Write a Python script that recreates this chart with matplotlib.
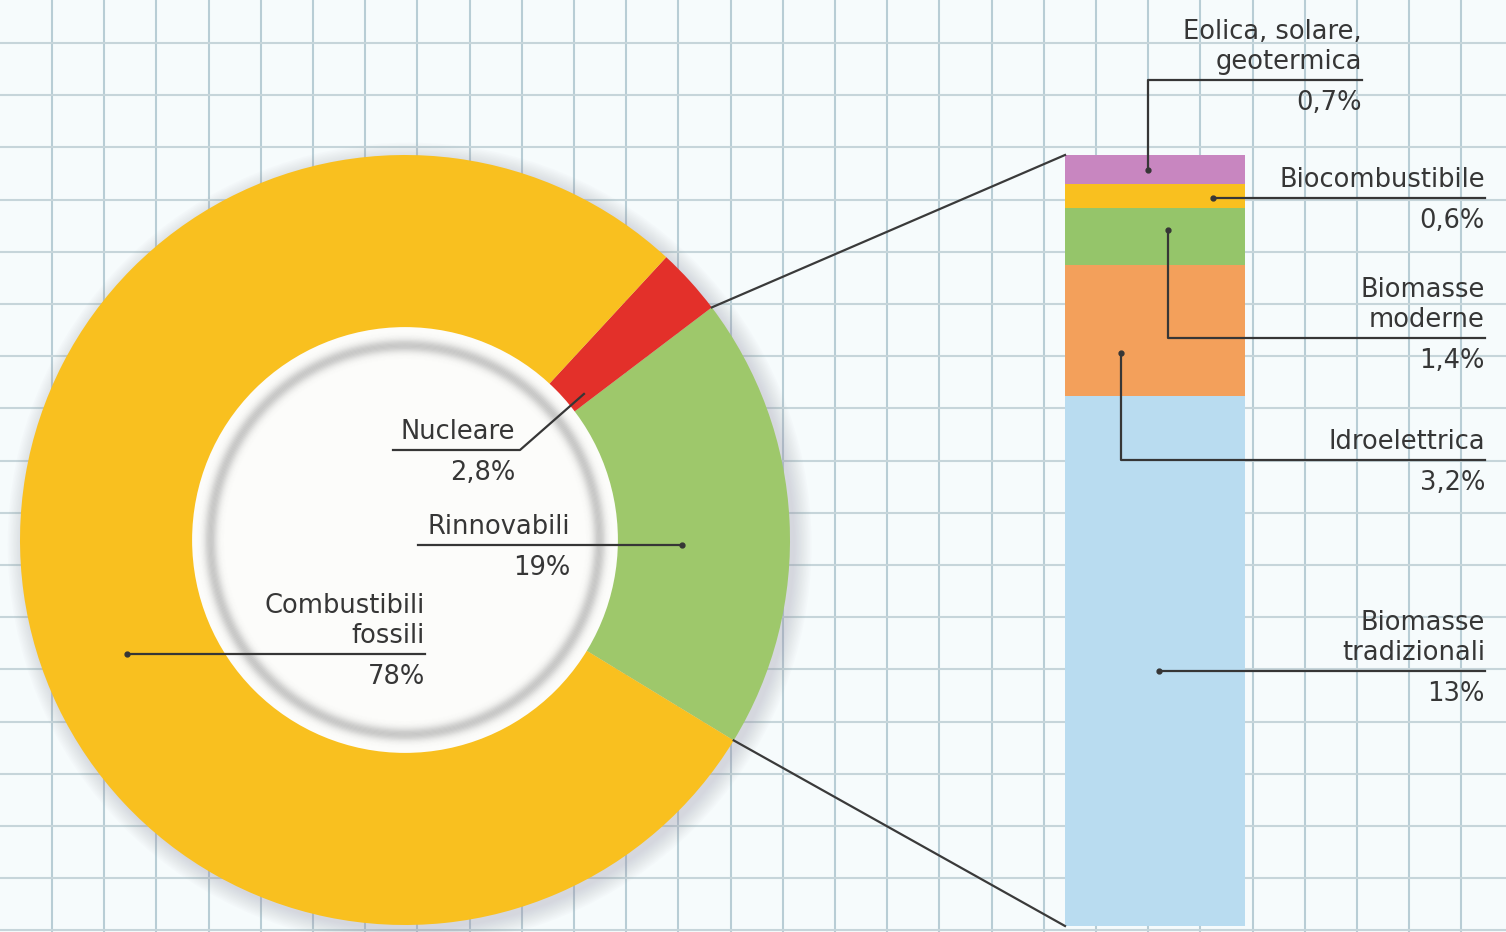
import matplotlib.pyplot as plt
import numpy as np
from matplotlib.patches import Circle

# energia primaria per fonte (%)
mix_labels = ['Rinnovabili', 'Nucleare', 'Combustibili\nfossili']
mix_values = [19, 2.8, 78]
mix_pct = ['19%', '2,8%', '78%']
mix_colors = ['#9ec86b', '#e3302a', '#f9c01f']

# dettaglio delle rinnovabili (%)
ren_labels = ['Eolica, solare,\ngeotermica', 'Biocombustibile', 'Biomasse\nmoderne',
              'Idroelettrica', 'Biomasse\ntradizionali']
ren_values = [0.7, 0.6, 1.4, 3.2, 13]
ren_pct = ['0,7%', '0,6%', '1,4%', '3,2%', '13%']
ren_colors = ['#c886c0', '#f9c01f', '#95c56a', '#f3a05b', '#b9dcf0']

W, H = 1506, 932
ink = '#363636'
fs = 18.5
lsp = 1.22
plt.rcParams['font.family'] = ['DejaVu Sans']

fig = plt.figure(figsize=(W / 100, H / 100), dpi=100)
fig.patch.set_facecolor('#f6fbfc')

# carta quadrettata
bg = fig.add_axes([0, 0, 1, 1], zorder=0)
bg.set_xlim(0, W)
bg.set_ylim(H, 0)
bg.axis('off')
for x in np.arange(52, W, 52.2):
    bg.axvline(x, color='#b8cdd5', lw=1.5)
for y in np.arange(43, H, 52.2):
    bg.axhline(y, color='#c6d5da', lw=1.5)

# ciambella
cx, cy, R = 405, 540, 385
pad = 1.06
pie_ax = fig.add_axes([(cx - R * pad) / W, (H - cy - R * pad) / H,
                       2 * R * pad / W, 2 * R * pad / H], zorder=1)
for k in range(12):
    pie_ax.add_patch(Circle((0.012, -0.012), 1.0 + k * 0.004, color='#9c9aac',
                            alpha=0.03, lw=0))
start = 2.9 - 180 * mix_values[0] / sum(mix_values)
wedges, _ = pie_ax.pie(mix_values, colors=mix_colors, startangle=start,
                       counterclock=True, radius=1, wedgeprops=dict(lw=0))
r_in = 0.553
pie_ax.add_patch(Circle((0, 0), r_in, fc='#fcfcfa', lw=0, zorder=3))
for r in np.arange(0.46, 0.545, 0.003):
    a = 0.28 * np.exp(-((r - 0.505) / 0.016) ** 2)
    pie_ax.add_patch(Circle((0, 0), r, fill=False, ec='#8e8e8e', lw=1.6,
                            alpha=a, zorder=4))
pie_ax.set_xlim(-pad, pad)
pie_ax.set_ylim(-pad, pad)
pie_ax.axis('off')

# barra delle rinnovabili
bx0, bx1, by0, by1 = 1065, 1245, 155, 926
bar_ax = fig.add_axes([bx0 / W, (H - by1) / H, (bx1 - bx0) / W, (by1 - by0) / H], zorder=1)
bottoms = np.concatenate([[0], np.cumsum(ren_values)[:-1]])
bar_ax.bar(0.5, ren_values, width=1, bottom=bottoms, color=ren_colors, lw=0)
bar_ax.set_xlim(0, 1)
bar_ax.set_ylim(sum(ren_values), 0)
bar_ax.axis('off')

# livello per linee e testi
top = fig.add_axes([0, 0, 1, 1], zorder=5)
top.set_xlim(0, W)
top.set_ylim(H, 0)
top.axis('off')


def to_top(ax, x, y):
    return top.transData.inverted().transform(ax.transData.transform((x, y)))


def polar(ang, r):
    return to_top(pie_ax, r * np.cos(np.radians(ang)), r * np.sin(np.radians(ang)))


# raccordi ciambella -> barra
g = wedges[0]
for ang, yb in [(g.theta2, 0), (g.theta1, sum(ren_values))]:
    p0 = polar(ang, 1.0)
    p1 = to_top(bar_ax, 0, yb)
    top.plot([p0[0], p1[0]], [p0[1], p1[1]], color='#3a3a3a', lw=1.6)

# etichette della barra
lab_right = [1362, 1485, 1485, 1485, 1485]
lab_line_y = [80, None, 338, 460, None]
anchor_x = [0.46, 0.82, 0.57, 0.31, 0.52]
anchor_f = [0.54, 0.6, 0.39, 0.67, 0.52]
for i in range(len(ren_values)):
    ax_, ay_ = to_top(bar_ax, anchor_x[i], bottoms[i] + anchor_f[i] * ren_values[i])
    uy = ay_ if lab_line_y[i] is None else lab_line_y[i]
    top.plot([ax_, ax_, lab_right[i]], [ay_, uy, uy], color=ink, lw=1.6)
    top.plot(ax_, ay_, 'o', ms=3.5, color=ink)
    top.text(lab_right[i], uy - 11, ren_labels[i], ha='right', va='baseline',
             fontsize=fs, color=ink, linespacing=lsp, multialignment='right')
    top.text(lab_right[i], uy + 30, ren_pct[i], ha='right', va='baseline',
             fontsize=fs, color=ink)

# etichette della ciambella
mids = [(w.theta1 + w.theta2) / 2 for w in wedges]
d_off = [-4, -3, 14.4]
d_r = [0.72, 0.6, 0.78]
d_right = [570, 515, 425]
pts = [polar(m + o, r) for m, o, r in zip(mids, d_off, d_r)]

# Rinnovabili
(ax_, ay_) = pts[0]
top.plot([418, ax_], [ay_, ay_], color=ink, lw=1.6)
top.plot(ax_, ay_, 'o', ms=3.5, color=ink)
uy0 = ay_
# Nucleare
(ax_, ay_) = pts[1]
top.plot([393, 520, ax_], [450, 450, ay_], color=ink, lw=1.6)
uy1 = 450
# Combustibili fossili
(ax_, ay_) = pts[2]
top.plot([ax_, 425], [ay_, ay_], color=ink, lw=1.6)
top.plot(ax_, ay_, 'o', ms=3.5, color=ink)
uy2 = ay_

for i, uy in enumerate([uy0, uy1, uy2]):
    top.text(d_right[i], uy - 11, mix_labels[i], ha='right', va='baseline',
             fontsize=fs, color=ink, linespacing=lsp, multialignment='right')
    top.text(d_right[i], uy + 30, mix_pct[i], ha='right', va='baseline',
             fontsize=fs, color=ink)

fig.savefig('out.png', dpi=100, facecolor=fig.get_facecolor())
